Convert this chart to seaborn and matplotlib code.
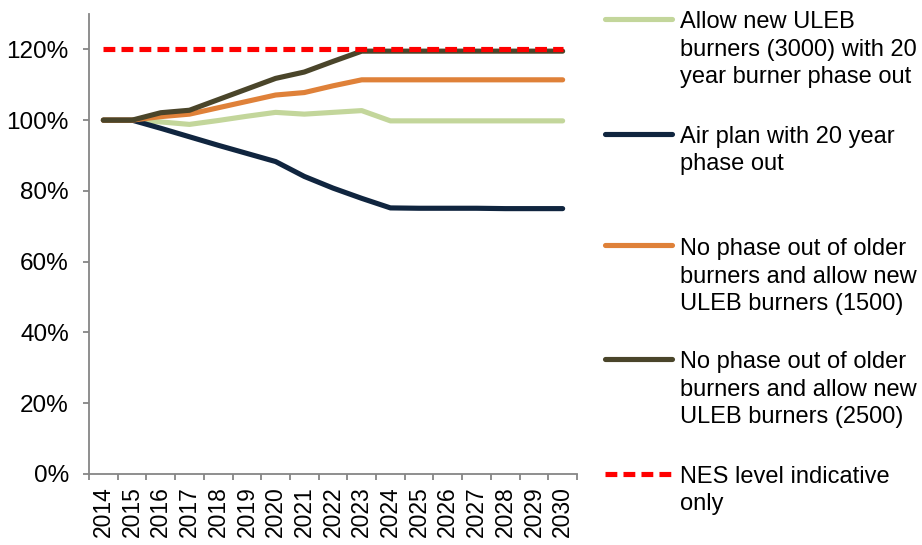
import matplotlib
matplotlib.use("Agg")
import matplotlib.pyplot as plt
from matplotlib.lines import Line2D
import numpy as np
import pandas as pd
import seaborn as sns

years = [str(y) for y in range(2014, 2031)]

uleb_3000_phase_out = [100, 100, 99.5, 98.8, 99.9, 101.1, 102.2, 101.7, 102.2, 102.7,
                       99.8, 99.8, 99.8, 99.8, 99.8, 99.8, 99.8]
air_plan_phase_out = [100, 100, 97.7, 95.3, 92.9, 90.6, 88.3, 84.1, 80.8, 77.9,
                      75.2, 75.1, 75.1, 75.1, 75.0, 75.0, 75.0]
no_phase_out_1500 = [100, 100, 101.0, 101.7, 103.5, 105.3, 107.1, 107.8, 109.7, 111.4,
                     111.4, 111.4, 111.4, 111.4, 111.4, 111.4, 111.4]
no_phase_out_2500 = [100, 100, 102.1, 102.8, 105.8, 108.8, 111.8, 113.6, 116.6, 119.5,
                     119.5, 119.5, 119.5, 119.5, 119.5, 119.5, 119.5]
nes_level = [120] * 17

series_labels = [
    "Allow new ULEB\nburners (3000) with 20\nyear burner phase out",
    "Air plan with 20 year\nphase out",
    "No phase out of older\nburners and allow new\nULEB burners (1500)",
    "No phase out of older\nburners and allow new\nULEB burners (2500)",
    "NES level indicative\nonly",
]
series_values = [uleb_3000_phase_out, air_plan_phase_out, no_phase_out_1500,
                 no_phase_out_2500, nes_level]
series_colors = ["#C3D69B", "#10253F", "#DF8139", "#4A452A", "#FF0000"]

y_ticks = [0, 20, 40, 60, 80, 100, 120]
y_tick_labels = ["0%", "20%", "40%", "60%", "80%", "100%", "120%"]

sns.set_style("white")
plt.rcParams["font.family"] = ["Liberation Sans", "DejaVu Sans"]

W, H = 922, 545
fig = plt.figure(figsize=(W / 100, H / 100), dpi=100)
ax = fig.add_axes([89 / W, 1 - 474 / H, (577 - 89) / W, (474 - 14) / H])

lw = 3.7
x_idx = np.arange(len(years))
for vals, col, lab in zip(series_values, series_colors, series_labels):
    df = pd.DataFrame({"x": x_idx, "y": vals})
    dashed = col == "#FF0000"
    sns.lineplot(data=df, x="x", y="y", ax=ax, color=col, linewidth=lw,
                 legend=False, zorder=4 if dashed else 3)
    line = ax.get_lines()[-1]
    if dashed:
        line.set_dashes((2.3, 1.2))
        line.set_dash_capstyle("butt")
    else:
        line.set_solid_capstyle("round")
        line.set_solid_joinstyle("round")

ax.set_xlim(-0.5, len(years) - 0.5)
ax.set_ylim(0, 130)
ax.set_yticks(y_ticks)
ax.set_yticklabels(y_tick_labels)
ax.set_xticks(x_idx)
ax.set_xticklabels(years, rotation=90)
ax.set_xticks(np.arange(-0.5, len(years)), minor=True)
ax.set_xlabel("")
ax.set_ylabel("")

spine_col = "#868686"
for side in ["top", "right"]:
    ax.spines[side].set_visible(False)
for side in ["left", "bottom"]:
    ax.spines[side].set_color(spine_col)
    ax.spines[side].set_linewidth(1.3)

ax.tick_params(axis="y", which="major", direction="out", length=4.5, width=1.3,
               color=spine_col, labelsize=17.5, pad=10, left=True)
ax.tick_params(axis="x", which="major", length=0, labelsize=16.5, pad=9, bottom=True)
ax.tick_params(axis="x", which="minor", direction="out", length=4.5, width=1.3,
               color=spine_col, bottom=True)
for t in ax.get_xticklabels() + ax.get_yticklabels():
    t.set_color("black")

# legend beside the axes: each handle sits level with the first line of its label
first_baselines = [27, 142, 254, 367, 482]
line_step = 28
for lab, col, yb in zip(series_labels, series_colors, first_baselines):
    n_lines = lab.count("\n") + 1
    yh = 1 - (yb - 8.5) / H
    ln = Line2D([605 / W, 672 / W], [yh, yh], transform=fig.transFigure,
                color=col, linewidth=lw)
    if col == "#FF0000":
        ln.set_dashes((2.3, 1.2))
        ln.set_dash_capstyle("butt")
    else:
        ln.set_solid_capstyle("round")
    fig.add_artist(ln)
    last_baseline = yb + (n_lines - 1) * line_step
    fig.text(680 / W, 1 - last_baseline / H, lab, fontsize=17, va="baseline",
             ha="left", linespacing=1.32, color="black")

fig.savefig("out.png", dpi=100)
